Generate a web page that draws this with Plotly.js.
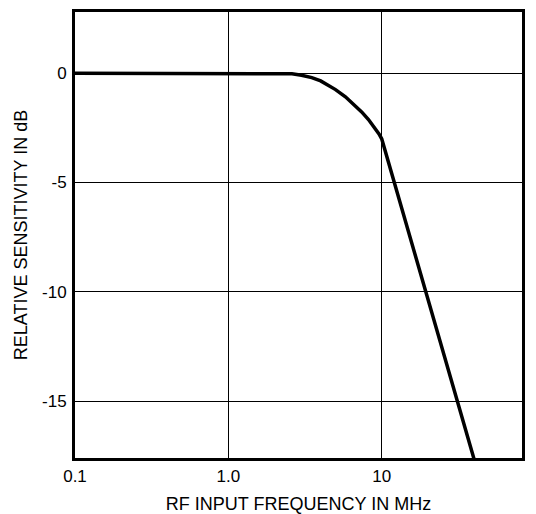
<!DOCTYPE html>
<html>
<head>
<meta charset="utf-8">
<script src="https://cdn.plot.ly/plotly-3.0.1.min.js"></script>
<style>html,body{margin:0;padding:0;background:#fff}#chart{width:536px;height:514px}</style>
</head>
<body>
<div id="chart"></div>
<script>
// Frequency in MHz and relative sensitivity in dB
var freqMHz = [0.1, 1.0, 2.0, 2.3, 2.6, 3.0, 3.5, 4.0, 4.5, 5.0, 5.8, 6.5, 7.4, 8.2, 9.1, 9.6, 10.0, 50.0];
var sensDb  = [0, 0, 0, -0.005, -0.03, -0.09, -0.2, -0.35, -0.55, -0.75, -1.08, -1.38, -1.77, -2.12, -2.53, -2.78, -3.0, -20.0];

var xTickVals = [0.1, 1, 10];
var xTickText = ['0.1', '1.0', '10'];
var yTickVals = [0, -5, -10, -15];
var yTickText = ['0', '-5', '-10', '-15'];

var fontFam = 'Liberation Sans, Arial, sans-serif';

var trace = {
  x: freqMHz, y: sensDb, type: 'scatter', mode: 'lines',
  line: {color: '#000', width: 3.5}, hoverinfo: 'skip'
};

var layout = {
  width: 536, height: 514,
  margin: {l: 75, r: 14, t: 12, b: 56},
  paper_bgcolor: '#fff', plot_bgcolor: '#fff',
  showlegend: false,
  font: {family: fontFam, size: 17, color: '#000'},
  xaxis: {
    type: 'log', range: [-1, 1.915],
    tickvals: xTickVals, ticktext: xTickText,
    tickfont: {family: fontFam, size: 17},
    showgrid: true, gridcolor: '#000', gridwidth: 1,
    showline: true, linecolor: '#000', linewidth: 3, mirror: true,
    ticks: 'outside', ticklen: 1, tickcolor: 'rgba(0,0,0,0)',
    zeroline: false,
    title: {text: 'RF INPUT FREQUENCY IN MHz', font: {family: fontFam, size: 18}, standoff: 16}
  },
  yaxis: {
    range: [-17.6, 2.8],
    tickvals: yTickVals, ticktext: yTickText,
    tickfont: {family: fontFam, size: 17},
    showgrid: true, gridcolor: '#000', gridwidth: 1,
    showline: true, linecolor: '#000', linewidth: 3, mirror: true,
    ticks: 'outside', ticklen: 2, tickcolor: 'rgba(0,0,0,0)',
    zeroline: false,
    title: {text: 'RELATIVE SENSITIVITY IN dB', font: {family: fontFam, size: 18}, standoff: 10}
  }
};

Plotly.newPlot('chart', [trace], layout, {staticPlot: true, displayModeBar: false});
</script>
</body>
</html>
